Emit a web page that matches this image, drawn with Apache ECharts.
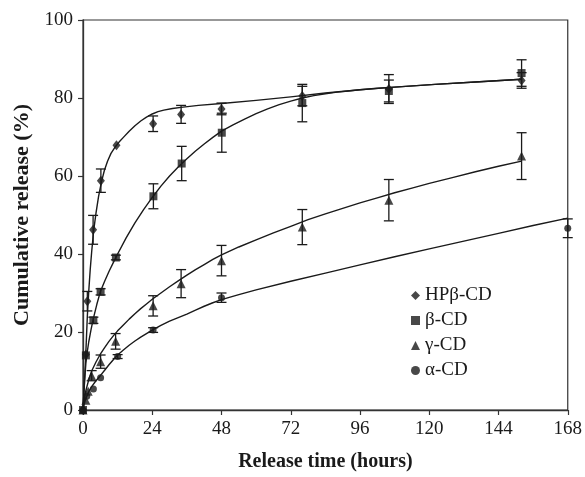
<!DOCTYPE html>
<html>
<head>
<meta charset="utf-8">
<script src="https://cdn.jsdelivr.net/npm/echarts@6/dist/echarts.min.js"></script>
<style>
html,body{margin:0;padding:0;background:#fff;}
#chart{width:585px;height:477px;}
</style>
</head>
<body>
<div id="chart"></div>
<script>
// ---- Data ----
var xTicks = [0, 24, 48, 72, 96, 120, 144, 168];
var yTicks = [0, 20, 40, 60, 80, 100];
var seriesNames = ['HPβ-CD', 'β-CD', 'γ-CD', 'α-CD'];

// measured points (time in hours, cumulative release %, error +/-)
var hpT   = [0, 1, 1.5, 3.5, 6.2, 11.6, 24.3, 34, 48, 76, 106, 152];
var hpV   = [0, 14.2, 27.9, 46.2, 58.8, 67.9, 73.4, 75.8, 77.2, 80.5, 82.3, 84.5];
var hpE   = [0, 0, 2.5, 3.7, 3, 0, 2, 2.3, 1.5, 2.5, 3.7, 2];

var bT    = [0, 1, 3.6, 6.1, 11.4, 24.4, 34.2, 48.1, 76, 106, 152];
var bV    = [0, 14, 23, 30.3, 39.1, 54.8, 63.2, 71.1, 78.7, 81.8, 86.4];
var bE    = [0, 0, 0.8, 0.8, 0.6, 3.2, 4.4, 5, 4.8, 2.8, 3.4];

var gT    = [0, 1, 1.8, 3, 6.1, 11.3, 24.3, 34, 48, 76, 106, 152];
var gV    = [0, 2.5, 4.8, 8.8, 12.4, 17.6, 26.7, 32.4, 38.3, 46.9, 53.8, 65.1];
var gE    = [0, 0, 0, 1.3, 1.7, 2, 2.6, 3.6, 3.9, 4.5, 5.3, 6];

var aT    = [0, 1.3, 3.6, 6.1, 12, 24.3, 48, 168];
var aV    = [0, 3.5, 5.4, 8.3, 13.7, 20.5, 28.8, 46.6];
var aE    = [0, 0, 0, 0, 0.5, 0.6, 1.2, 2.4];

// fitted curves
var hpCurveT = [0, 0.5, 1, 1.5, 2, 2.5, 3, 3.7, 4.5, 5.4, 6.4, 7.4, 8.5, 9.7, 11, 12.5, 14, 16, 18, 20, 22, 24, 26, 28, 31, 34, 40, 48, 60, 72, 84, 96, 108, 122, 136, 152];
var hpCurveV = [0, 7, 15, 24, 30.5, 36, 40.5, 46, 50.5, 54.8, 58.5, 61.4, 63.8, 65.8, 67.3, 68.7, 69.9, 71.5, 72.9, 74.1, 75.1, 75.9, 76.5, 76.9, 77.3, 77.6, 78.1, 78.6, 79.4, 80.3, 81.3, 82.1, 82.8, 83.5, 84.1, 84.8];

var bCurveT = [0, 0.5, 1, 1.5, 2, 2.8, 3.6, 4.8, 6, 7.5, 9, 10.5, 12, 15, 18, 21, 24, 27, 30, 33, 36, 39, 42, 45, 48, 52, 56, 60, 64, 68, 72, 76, 80, 84, 88, 92, 96, 102, 108, 122, 136, 152];
var bCurveV = [0, 7, 12, 15, 17.5, 20.7, 23.5, 27.1, 30.3, 33, 35.5, 37.8, 40, 44.2, 48, 51.4, 54.5, 57.4, 60, 62.3, 64.4, 66.4, 68.2, 69.9, 71.5, 73.1, 74.6, 76, 77.2, 78.3, 79.2, 80, 80.6, 81.1, 81.5, 81.8, 82.1, 82.5, 82.8, 83.5, 84.1, 84.8];

var gCurveT = [0, 0.5, 1, 2, 3, 4.5, 6, 7.5, 9, 10.5, 12, 14, 16, 18, 20, 22, 24, 27, 30, 33, 36, 39, 42, 45, 48, 54, 60, 66, 72, 78, 84, 90, 96, 102, 108, 114, 120, 128, 136, 144, 152];
var gCurveV = [0, 3, 5, 7.8, 10, 12.3, 14.3, 16, 17.6, 19, 20.3, 21.8, 23.3, 24.7, 26, 27.2, 28.4, 30, 31.6, 33.1, 34.6, 36, 37.3, 38.6, 39.8, 41.8, 43.6, 45.4, 47.1, 48.8, 50.3, 51.7, 53.1, 54.4, 55.7, 56.9, 58.1, 59.6, 61.1, 62.5, 63.8];

var aCurveT = [0, 0.5, 1, 2, 3, 4.5, 6, 7.5, 9, 10.5, 12, 14, 16, 18, 20, 22, 24, 27, 30, 33, 36, 39, 42, 45, 48, 54, 60, 72, 84, 96, 108, 120, 132, 144, 156, 168];
var aCurveV = [0, 1.8, 3, 4.7, 6, 7.5, 8.8, 10.2, 11.6, 12.9, 14.1, 15.4, 16.6, 17.7, 18.7, 19.6, 20.5, 21.7, 22.8, 23.7, 24.6, 25.6, 26.6, 27.5, 28.3, 29.6, 30.8, 33, 35.1, 37.2, 39.3, 41.3, 43.3, 45.3, 47.3, 49.2];

// ---- Build chart ----
function pairs(t, v){ return t.map(function(x,i){ return [x, v[i]]; }); }
function errs(t, v, e){
  var out = [];
  t.forEach(function(x,i){ if (e[i] > 0) out.push([x, v[i]-e[i], v[i]+e[i]]); });
  return out;
}

var FONT = '"Liberation Serif", "Times New Roman", serif';
var INK = '#1a1a1a';

function curve(name, t, v){
  return {
    type: 'line', name: name + ' fit', data: pairs(t, v), smooth: false,
    showSymbol: false, symbol: 'none', silent: true, z: 2,
    lineStyle: { color: INK, width: 1.4, join: 'round' }
  };
}
function errSeries(t, v, e){
  return {
    type: 'custom', data: errs(t, v, e), z: 3, silent: true,
    encode: { x: 0, y: [1, 2] },
    renderItem: function(params, api){
      var x = api.value(0), lo = api.value(1), hi = api.value(2);
      var p1 = api.coord([x, lo]), p2 = api.coord([x, hi]);
      var w = 5;
      var st = { stroke: INK, lineWidth: 1.3 };
      return { type: 'group', children: [
        { type: 'line', shape: { x1: p1[0], y1: p1[1], x2: p2[0], y2: p2[1] }, style: st },
        { type: 'line', shape: { x1: p1[0]-w, y1: p1[1], x2: p1[0]+w, y2: p1[1] }, style: st },
        { type: 'line', shape: { x1: p2[0]-w, y1: p2[1], x2: p2[0]+w, y2: p2[1] }, style: st }
      ]};
    }
  };
}
function points(name, t, v, symbol, size){
  return {
    type: 'scatter', name: name, data: pairs(t, v), symbol: symbol, symbolSize: size, z: 4,
    itemStyle: { color: INK }
  };
}

var option = {
  animation: false,
  backgroundColor: '#fff',
  grid: { left: 83, top: 20, width: 487, height: 393, show: true, borderColor: '#333', borderWidth: 1.2, backgroundColor: 'transparent' },
  legend: {
    data: seriesNames, orient: 'vertical', left: 406, top: 281,
    itemWidth: 9, itemHeight: 9, itemGap: 6,
    textStyle: { fontFamily: FONT, fontSize: 19, color: INK, lineHeight: 19 }
  },
  xAxis: {
    type: 'value', min: xTicks[0], max: xTicks[xTicks.length-1], interval: 24,
    name: 'Release time (hours)', nameLocation: 'middle', nameGap: 42,
    nameTextStyle: { fontFamily: FONT, fontSize: 20, fontWeight: 'bold', color: INK },
    axisLine: { show: true, lineStyle: { color: '#333', width: 1.3 } },
    axisTick: { show: true, inside: false, length: 5, lineStyle: { color: '#333', width: 1.2 } },
    axisLabel: { fontFamily: FONT, fontSize: 19, color: INK, margin: 10 },
    splitLine: { show: false }
  },
  yAxis: {
    type: 'value', min: yTicks[0], max: yTicks[yTicks.length-1], interval: 20,
    name: 'Cumulative release (%)', nameLocation: 'middle', nameGap: 50,
    nameTextStyle: { fontFamily: FONT, fontSize: 22, fontWeight: 'bold', color: INK },
    axisLine: { show: true, lineStyle: { color: '#333', width: 1.3 } },
    axisTick: { show: true, inside: false, length: 5, lineStyle: { color: '#333', width: 1.2 } },
    axisLabel: { fontFamily: FONT, fontSize: 19, color: INK, margin: 10 },
    splitLine: { show: false }
  },
  series: [
    curve(seriesNames[0], hpCurveT, hpCurveV),
    curve(seriesNames[1], bCurveT, bCurveV),
    curve(seriesNames[2], gCurveT, gCurveV),
    curve(seriesNames[3], aCurveT, aCurveV),
    errSeries(hpT, hpV, hpE),
    errSeries(bT, bV, bE),
    errSeries(gT, gV, gE),
    errSeries(aT, aV, aE),
    points(seriesNames[0], hpT, hpV, 'diamond', [8, 10]),
    points(seriesNames[1], bT, bV, 'rect', 8),
    points(seriesNames[2], gT, gV, 'triangle', 9),
    points(seriesNames[3], aT, aV, 'circle', 7)
  ]
};

var chart = echarts.init(document.getElementById('chart'), null, { renderer: 'canvas' });
chart.setOption(option);
</script>
</body>
</html>
